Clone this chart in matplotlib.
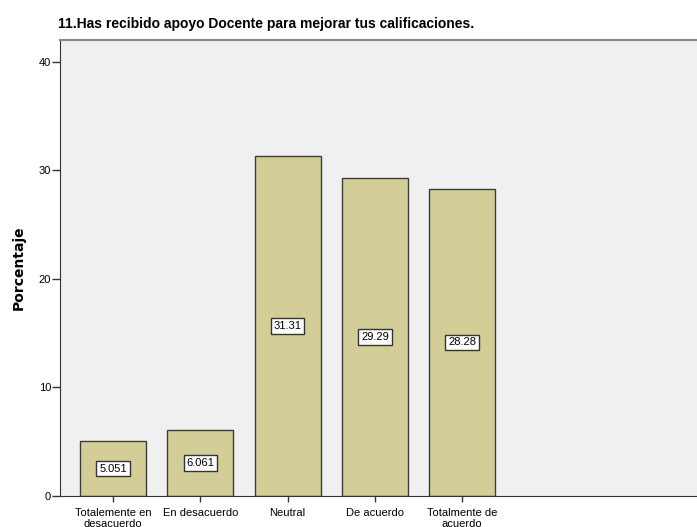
import matplotlib.pyplot as plt

categories = ["Totalemente en\ndesacuerdo", "En desacuerdo", "Neutral",
              "De acuerdo", "Totalmente de\nacuerdo"]
percentages = [5.051, 6.061, 31.31, 29.29, 28.28]
value_labels = ["5.051", "6.061", "31.31", "29.29", "28.28"]
yticks = [0, 10, 20, 30, 40]

plt.rcParams["font.family"] = ["Liberation Sans", "DejaVu Sans"]

W, H = 697, 527
fig = plt.figure(figsize=(W / 100, H / 100), dpi=100)
ax = fig.add_axes([60 / W, (H - 496) / H, (W - 60) / W, (496 - 40) / H])
ax.set_facecolor("#F0F0F0")

x = list(range(len(categories)))
ax.bar(x, percentages, width=0.756, color="#D3CE97", edgecolor="#3C3C3C",
       linewidth=1.0, zorder=2)

for xi, v, lab in zip(x, percentages, value_labels):
    ax.text(xi, v / 2, lab, ha="center", va="center", fontsize=8, zorder=3,
            bbox=dict(boxstyle="square,pad=0.25", facecolor="white",
                      edgecolor="#333333", linewidth=1.0))

ax.set_xlim(-0.607, 6.69)
ax.set_ylim(0, 42)
ax.set_xticks(x)
ax.set_xticklabels(categories, fontsize=8, linespacing=1.05)
ax.set_yticks(yticks)
ax.tick_params(axis="y", labelsize=8, length=5.5, width=1, color="#333333", pad=1)
ax.tick_params(axis="x", length=4, width=1, color="#333333", pad=5)

ax.spines["right"].set_visible(False)
ax.spines["top"].set_color("#888888")
ax.spines["top"].set_linewidth(1.5)
ax.spines["left"].set_color("#333333")
ax.spines["bottom"].set_color("#333333")

ax.set_ylabel("Porcentaje", fontsize=10, fontweight="bold", labelpad=9,
              family="DejaVu Sans")
fig.text(266 / W, 1 - 24 / H, "11.Has recibido apoyo Docente para mejorar tus calificaciones.",
         ha="center", va="center", fontsize=10, fontweight="bold")

fig.savefig("out.png", dpi=100)
